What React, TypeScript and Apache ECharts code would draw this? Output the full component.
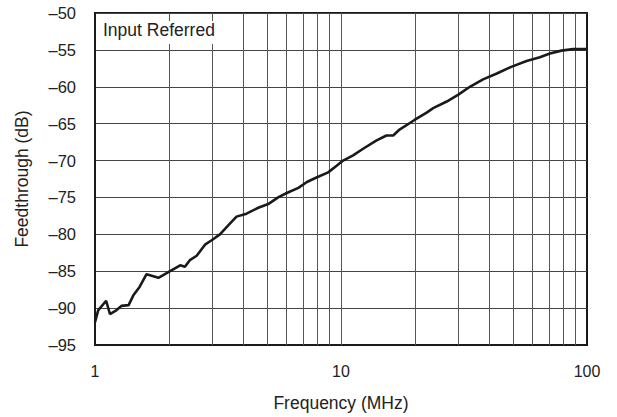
import React, { useEffect, useRef } from "react";
import * as echarts from "echarts";

const freqMHz = [
  1, 1.03, 1.11, 1.15, 1.22, 1.28, 1.37, 1.43, 1.52, 1.62, 1.81, 2.02, 2.22, 2.32,
  2.43, 2.59, 2.8, 2.98, 3.22, 3.48, 3.76, 4.13, 4.61, 5.06, 5.55, 6.02, 6.71,
  7.27, 7.95, 8.87, 9.6, 10.2, 11.2, 12.3, 13.9, 15.3, 16.3, 17.3, 19.9, 22.3,
  23.7, 26.9, 29.9, 33.4, 37.8, 43, 49.2, 56.8, 64.3, 70.7, 78.7, 87.8, 100,
];
const feedthroughDb = [
  -91.9, -90.3, -89.0, -90.8, -90.3, -89.7, -89.6, -88.3, -87.1, -85.4, -85.9,
  -85.0, -84.2, -84.4, -83.5, -82.9, -81.4, -80.8, -80.0, -78.8, -77.6, -77.2,
  -76.4, -75.9, -75.0, -74.4, -73.7, -72.9, -72.3, -71.6, -70.7, -70.0, -69.3,
  -68.4, -67.3, -66.6, -66.6, -65.8, -64.5, -63.5, -62.9, -62.0, -61.1, -60.0,
  -59.0, -58.2, -57.3, -56.5, -56.0, -55.5, -55.1, -54.9, -54.9,
];
const verticalGridFreqs = [2, 3, 4, 5, 6, 7, 8, 9, 10, 20, 30, 40, 50, 60, 70, 80, 90];
const annotation = "Input Referred";
const xAxisTitle = "Frequency (MHz)";
const yAxisTitle = "Feedthrough (dB)";

const FONT = "'Liberation Sans', Arial, sans-serif";

export default function App() {
  const ref = useRef<HTMLDivElement>(null);
  useEffect(() => {
    document.body.style.margin = "0";
    if (!ref.current) return;
    const chart = echarts.init(ref.current, undefined, { renderer: "svg" });
    const data = freqMHz.map((f, i) => [f, feedthroughDb[i]]);
    chart.setOption({
      animation: false,
      backgroundColor: "#fff",
      grid: {
        left: 95,
        top: 13,
        right: 30,
        bottom: 71,
        show: true,
        borderColor: "#1a1a1a",
        borderWidth: 2,
        backgroundColor: "transparent",
      },
      xAxis: {
        type: "log",
        logBase: 10,
        min: 1,
        max: 100,
        name: xAxisTitle,
        nameLocation: "middle",
        nameGap: 49,
        nameTextStyle: { fontFamily: FONT, fontSize: 17.5, color: "#222" },
        axisLine: { show: true, lineStyle: { color: "#1a1a1a", width: 2 } },
        axisTick: { show: false },
        splitLine: { show: false },
        axisLabel: { fontFamily: FONT, fontSize: 16, color: "#222", margin: 18 },
      },
      yAxis: {
        type: "value",
        min: -95,
        max: -50,
        interval: 5,
        name: yAxisTitle,
        nameLocation: "middle",
        nameGap: 64,
        nameRotate: 90,
        nameTextStyle: { fontFamily: FONT, fontSize: 17.5, color: "#222" },
        axisLine: { show: true, lineStyle: { color: "#1a1a1a", width: 2 } },
        axisTick: { show: false },
        splitLine: { show: true, lineStyle: { color: "#444", width: 1 } },
        axisLabel: {
          fontFamily: FONT,
          fontSize: 16.5,
          color: "#222",
          margin: 19,
          formatter: (v: number) => (v < 0 ? "\u2013" + Math.abs(v) : String(v)),
        },
      },
      series: [
        {
          type: "line",
          data,
          showSymbol: false,
          symbol: "none",
          z: 5,
          lineStyle: { color: "#1a1a1a", width: 2.6 },
          markLine: {
            silent: true,
            symbol: "none",
            label: { show: false },
            lineStyle: { color: "#555", width: 1, type: "solid" },
            z: 1,
            data: verticalGridFreqs.map((f) => ({ xAxis: f })),
          },
        },
      ],
      graphic: [
        {
          type: "rect",
          shape: { x: 97, y: 21, width: 138, height: 23 },
          style: { fill: "#fff" },
          z: 10,
        },
        {
          type: "text",
          x: 103,
          y: 30,
          style: {
            text: annotation,
            fontFamily: FONT,
            fontSize: 17.5,
            fill: "#222",
            verticalAlign: "middle",
          },
          z: 11,
        },
      ],
    });
    return () => chart.dispose();
  }, []);
  return <div ref={ref} style={{ width: 617, height: 417 }} />;
}
